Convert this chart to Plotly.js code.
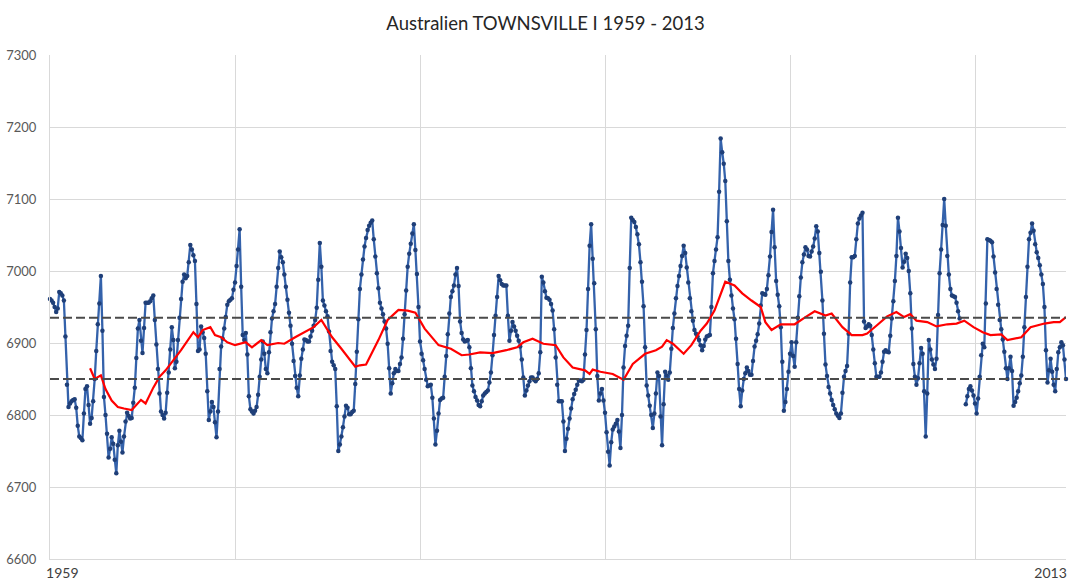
<!DOCTYPE html>
<html><head><meta charset="utf-8">
<script src="https://cdn.plot.ly/plotly-3.0.1.min.js"></script>
<style>html,body{margin:0;padding:0;background:#fff}#chart{width:1076px;height:583px}</style>
</head><body><div id="chart"></div>
<script>
const chartTitle = 'Australien TOWNSVILLE I 1959 - 2013';
const tickLabels = ['1959', '2013'];
const referenceLevels = [6935, 6850];

// Monthly mean sea level (mm), Jan 1959 .. Dec 2013 (null = missing)
const seaLevel = [
6961,6959,6956,6950,6943,6948,6971,6969,6966,6959,6909,6842,
6811,6816,6819,6821,6822,6810,6785,6770,6768,6765,6802,6836,
6840,6814,6788,6796,6819,6850,6889,6926,6955,6993,6917,6825,
6800,6774,6741,6753,6769,6760,6738,6719,6758,6778,6763,6748,
6770,6791,6803,6799,6795,6796,6817,6838,6879,6920,6932,6903,
6886,6921,6956,6956,6956,6958,6962,6966,6932,6898,6864,6830,
6805,6800,6795,6803,6831,6859,6891,6922,6904,6865,6874,6904,
6935,6961,6985,6995,6990,6993,7012,7036,7030,7022,7014,6954,
6889,6891,6923,6915,6907,6885,6833,6793,6805,6818,6811,6790,
6769,6805,6864,6895,6906,6920,6936,6953,6958,6960,6962,6974,
6984,7007,7030,7058,6978,6911,6904,6914,6884,6826,6808,6805,
6802,6806,6811,6828,6853,6877,6902,6885,6864,6858,6887,6915,
6934,6944,6954,6978,7004,7027,7019,7012,6995,6978,6960,6942,
6924,6899,6875,6854,6838,6826,6855,6878,6891,6905,6904,6902,
6902,6909,6917,6924,6932,6949,6988,7039,7006,6959,6952,6944,
6937,6916,6889,6874,6869,6864,6812,6750,6759,6770,6783,6798,
6813,6810,6801,6801,6804,6806,6843,6888,6933,6975,6995,7016,
7034,7046,7057,7063,7067,7070,7044,7020,6997,6976,6956,6948,
6940,6930,6920,6899,6865,6830,6844,6858,6864,6861,6861,6871,
6880,6906,6940,6973,7006,7024,7038,7052,7065,7029,6996,6950,
6902,6885,6876,6864,6849,6840,6841,6842,6824,6795,6759,6778,
6802,6821,6823,6824,6853,6882,6912,6941,6964,6972,6980,6995,
7004,6979,6930,6914,6905,6902,6903,6904,6894,6865,6841,6833,
6825,6820,6814,6812,6819,6827,6830,6832,6834,6845,6859,6883,
6911,6938,6964,6993,6987,6982,6980,6980,6980,6938,6903,6917,
6929,6923,6917,6910,6903,6895,6877,6852,6827,6834,6841,6847,
6852,6852,6849,6847,6850,6858,6887,6992,6984,6972,6963,6962,
6960,6954,6945,6919,6880,6842,6819,6819,6819,6791,6750,6767,
6781,6795,6809,6822,6829,6835,6842,6848,6848,6847,6849,6884,
6918,6975,7035,7065,7017,6983,6919,6854,6820,6830,6836,6820,
6803,6776,6749,6730,6762,6780,6784,6788,6793,6777,6754,6800,
6866,6896,6910,6924,7004,7074,7071,7068,7061,7051,7037,7012,
6985,6951,6894,6841,6827,6813,6800,6782,6802,6830,6859,6854,
6798,6758,6815,6860,6855,6849,6859,6892,6921,6941,6962,6979,
6993,7007,7021,7035,7025,7005,6984,6962,6944,6931,6918,6913,
6909,6904,6897,6890,6896,6905,6909,6910,6911,6950,6997,7014,
7030,7047,7110,7184,7165,7149,7125,7069,7014,6988,6966,6948,
6933,6906,6871,6836,6812,6834,6850,6858,6866,6861,6856,6856,
6875,6895,6903,6912,6927,6952,6969,6968,6967,6975,6994,7020,
7054,7085,7033,6986,6967,6951,6922,6874,6806,6818,6836,6860,
6885,6901,6882,6867,6901,6935,6965,6991,7012,7023,7033,7030,
7021,7020,7027,7034,7045,7062,7055,7025,6999,6959,6913,6870,
6854,6839,6830,6821,6814,6808,6802,6799,6796,6802,6831,6853,
6861,6868,6913,6984,7019,7019,7021,7044,7066,7073,7077,7081,
6930,6921,6923,6926,6924,6911,6891,6872,6853,6853,6853,6859,
6874,6888,6890,6888,6887,6910,6934,6958,6986,7021,7074,7055,
7032,7005,7013,7024,7018,7000,6969,6920,6871,6853,6842,6851,
6872,6893,6885,6833,6770,6830,6904,6891,6877,6870,6864,6878,
6939,6997,7030,7064,7100,7063,7021,6995,6975,6966,6965,6964,
6956,6944,6934,null,null,null,6815,6826,6836,6840,6834,6827,
6816,6802,6823,6853,6883,6899,6894,6955,7044,7043,7042,7040,
7020,6998,6975,6953,6932,6919,6905,6888,6865,6850,6865,6881,
6861,6813,6818,6824,6833,6844,6855,6881,6922,6964,7006,7044,
7053,7066,7056,7037,7026,7018,7008,6995,6982,6950,6890,6845,
6862,6878,6860,6842,6833,6864,6887,6894,6901,6897,6877,6850
];

// Moving average (red line), month index and value
const avgMonths = [26,29,33,36,40,44,48,53,59,62,67,71,75,80,85,93,96,99,104,107,111,115,120,127,131,137,141,148,152,159,165,171,176,183,189,198,201,205,213,219,226,232,237,243,252,260,267,272,279,287,296,303,307,313,320,328,333,339,347,350,352,357,365,372,378,386,393,397,400,404,411,416,422,426,431,438,444,449,455,461,464,468,474,483,490,496,503,507,514,520,527,530,536,543,549,554,558,562,569,575,582,588,593,599,605,610,617,621,630,636,645,651,655,659];
const avgValues = [6865,6850,6855,6836,6820,6811,6809,6807,6821,6816,6838,6853,6862,6876,6890,6915,6908,6918,6922,6911,6908,6901,6897,6901,6894,6904,6897,6900,6899,6908,6915,6922,6932,6908,6892,6867,6869,6870,6904,6932,6946,6945,6942,6920,6897,6892,6883,6884,6887,6886,6890,6894,6901,6906,6899,6897,6880,6866,6862,6857,6863,6860,6857,6849,6871,6885,6890,6895,6904,6899,6885,6897,6917,6927,6945,6985,6980,6969,6959,6950,6929,6918,6926,6926,6936,6944,6938,6941,6922,6911,6911,6913,6924,6937,6943,6936,6940,6931,6929,6923,6926,6927,6931,6922,6915,6911,6912,6904,6908,6922,6927,6929,6929,6936];

const months = seaLevel.map((_, i) => i);
const lastMonth = months[months.length - 1];

const traces = [
  {
    x: months, y: seaLevel, type: 'scatter', mode: 'lines+markers',
    line: {color: '#3462ab', width: 2.3},
    marker: {color: '#1f3f78', size: 4.5},
    connectgaps: false, cliponaxis: false, hoverinfo: 'skip'
  },
  {
    x: avgMonths, y: avgValues, type: 'scatter', mode: 'lines',
    line: {color: '#ff0000', width: 2.2}, hoverinfo: 'skip'
  }
];
referenceLevels.forEach(lvl => traces.push({
  x: [0, lastMonth], y: [lvl, lvl], type: 'scatter', mode: 'lines',
  line: {color: '#4a4a4a', width: 2, dash: '9px,4px'}, hoverinfo: 'skip'
}));

const layout = {
  width: 1076, height: 583,
  margin: {l: 50, r: 10, t: 55, b: 24},
  paper_bgcolor: '#ffffff', plot_bgcolor: '#ffffff',
  showlegend: false,
  font: {family: 'Lato, "Liberation Sans", sans-serif', color: '#595959'},
  title: {
    text: chartTitle, x: 0.507, xref: 'container', xanchor: 'center',
    y: 0.96, yref: 'container', yanchor: 'middle',
    font: {family: 'Lato, "Liberation Sans", sans-serif', size: 18.5, color: '#262626'}
  },
  xaxis: {
    range: [0, lastMonth],
    tickmode: 'array', tickvals: [8, lastMonth - 10], ticktext: tickLabels,
    ticks: '', showgrid: false, zeroline: false,
    showline: true, linecolor: '#d9d9d9', linewidth: 1,
    tickfont: {size: 14, color: '#404040'}, ticklabelstandoff: 1,
    minor: {tickmode: 'array', tickvals: [120, 240, 360, 480, 600], showgrid: true, gridcolor: '#d9d9d9', gridwidth: 1, ticks: ''}
  },
  yaxis: {
    range: [6600, 7300], tickmode: 'linear', tick0: 6600, dtick: 100,
    ticks: '', showgrid: true, gridcolor: '#d9d9d9', gridwidth: 1,
    zeroline: false, showline: true, linecolor: '#d9d9d9', linewidth: 1,
    tickfont: {size: 13, color: '#595959'}, ticklabelstandoff: 10
  }
};

Plotly.newPlot('chart', traces, layout, {displayModeBar: false, staticPlot: true});
</script>
</body></html>
